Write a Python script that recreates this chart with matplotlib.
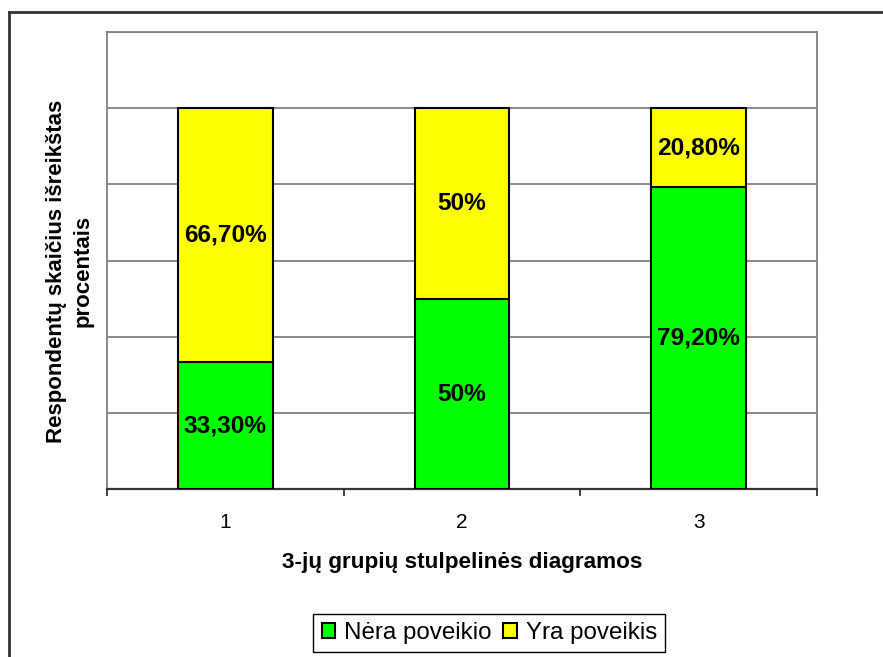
import numpy as np
import matplotlib
matplotlib.use("Agg")
import matplotlib.pyplot as plt
from matplotlib.lines import Line2D

plt.rcParams['font.family'] = ['Liberation Sans', 'DejaVu Sans']

groups = ['1', '2', '3']
nera_poveikio = [33.3, 50.0, 79.2]
yra_poveikis = [66.7, 50.0, 20.8]
series_names = ['Nėra poveikio', 'Yra poveikis']
x_title = '3-jų grupių stulpelinės diagramos'
y_title = 'Respondentų skaičius išreikštas\nprocentais'


def pct_label(v):
    if float(v).is_integer():
        return f"{int(v)}%"
    return f"{v:.2f}%".replace('.', ',')


fig = plt.figure(figsize=(8.83, 6.57), dpi=100)
ax = fig.add_axes([0.1212, 0.2553, 0.8041, 0.696])

x = np.arange(len(groups))
width = 0.4
bottom_vals = np.array(nera_poveikio) / 100
top_vals = np.array(yra_poveikis) / 100

ax.set_axisbelow(True)
b1 = ax.bar(x, bottom_vals, width, color='#00FF00', edgecolor='black',
            linewidth=1.5, label=series_names[0], zorder=3)
b2 = ax.bar(x, top_vals, width, bottom=bottom_vals, color='#FFFF00',
            edgecolor='black', linewidth=1.5, label=series_names[1], zorder=3)

# segment labels in the middle of each stacked piece
for xi, lo, hi in zip(x, bottom_vals, top_vals):
    ax.text(xi, lo / 2, pct_label(lo * 100), ha='center', va='center',
            fontsize=17.6, fontweight='bold', zorder=4)
    ax.text(xi, lo + hi / 2, pct_label(hi * 100), ha='center', va='center',
            fontsize=17.6, fontweight='bold', zorder=4)

ax.set_xlim(-0.5, len(groups) - 0.5)
ax.set_ylim(0, 1.2)
ax.set_yticks(np.arange(0, 1.21, 0.2))
ax.set_yticklabels([])
ax.tick_params(axis='y', length=0)
ax.yaxis.grid(True, color='#808080', linewidth=1.3)

# category labels centred, ticks on the boundaries
ax.set_xticks(x)
ax.set_xticklabels(groups, fontsize=15)
ax.tick_params(axis='x', which='major', length=0, pad=17)
ax.set_xticks(np.arange(-0.5, len(groups), 1.0), minor=True)
ax.tick_params(axis='x', which='minor', length=5, width=1.3,
               color='#333333', direction='out')

for s in ['top', 'right', 'left']:
    ax.spines[s].set_color('#808080')
    ax.spines[s].set_linewidth(1.3)
ax.spines['bottom'].set_color('#333333')
ax.spines['bottom'].set_linewidth(1.6)

ax.set_xlabel(x_title, fontsize=16.2, fontweight='bold', va='center')
ax.xaxis.set_label_coords(0.5, -0.161)
ax.set_ylabel(y_title, fontsize=16, fontweight='bold', va='center',
              ha='center', multialignment='center', linespacing=1.35)
ax.yaxis.set_label_coords(-0.052, 0.477)

leg = fig.legend(handles=[b1, b2], loc='center', bbox_to_anchor=(0.554, 0.0365),
                 ncol=2, fontsize=17.4, frameon=True, fancybox=False,
                 framealpha=1, edgecolor='black', handlelength=0.55,
                 handleheight=0.55, handletextpad=0.37, columnspacing=0.5,
                 borderpad=0.35)
leg.get_frame().set_linewidth(1.0)

# outer frame, open on the right and bottom
fig.add_artist(Line2D([8.5 / 883, 8.5 / 883], [0, 1 - 12 / 657],
                      color='#333333', linewidth=2, transform=fig.transFigure))
fig.add_artist(Line2D([8.5 / 883, 1], [1 - 12 / 657, 1 - 12 / 657],
                      color='#333333', linewidth=2, transform=fig.transFigure))

fig.savefig('out.png', dpi=100)
